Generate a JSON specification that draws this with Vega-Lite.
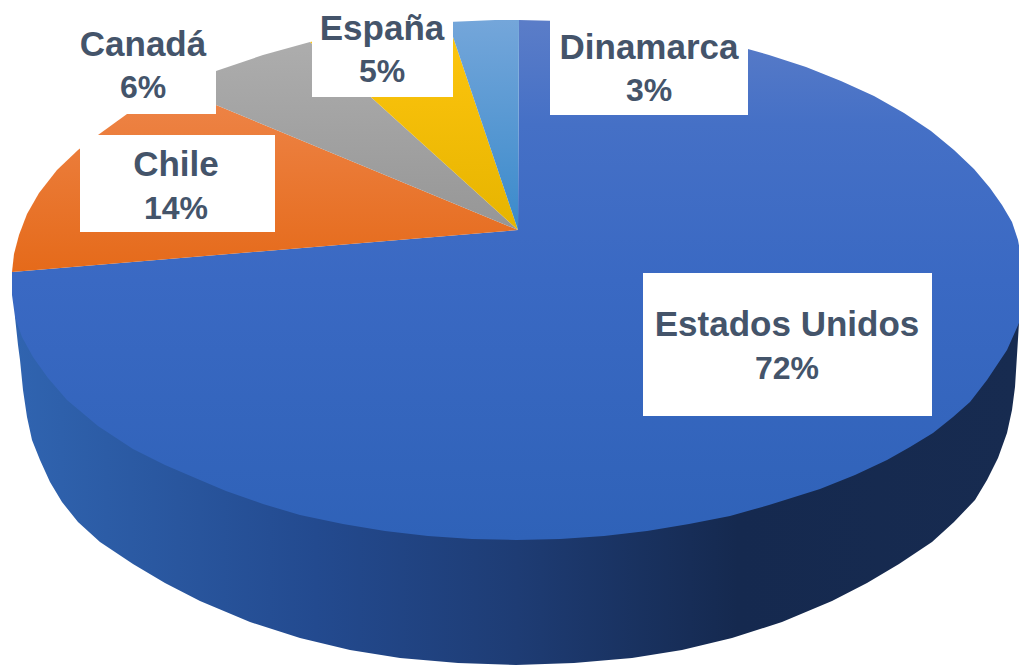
{"$schema":"https://vega.github.io/schema/vega-lite/v6.json","width":1019,"height":667,"padding":0,"autosize":{"type":"fit","contains":"padding"},"background":"white","view":{"stroke":null},
"datasets":{"outline":[
{"p":"Lado","i":0,"x":15,"y":317},{"p":"Lado","i":1,"x":18,"y":345},{"p":"Lado","i":2,"x":20,"y":360},{"p":"Lado","i":3,"x":23,"y":390},{"p":"Lado","i":4,"x":27,"y":417},{"p":"Lado","i":5,"x":32,"y":440},{"p":"Lado","i":6,"x":40,"y":460},{"p":"Lado","i":7,"x":50,"y":482},{"p":"Lado","i":8,"x":62,"y":502},{"p":"Lado","i":9,"x":78,"y":522},{"p":"Lado","i":10,"x":100,"y":542},{"p":"Lado","i":11,"x":133,"y":564},{"p":"Lado","i":12,"x":165,"y":583},{"p":"Lado","i":13,"x":200,"y":601},{"p":"Lado","i":14,"x":250,"y":622},{"p":"Lado","i":15,"x":300,"y":638},{"p":"Lado","i":16,"x":350,"y":650},{"p":"Lado","i":17,"x":400,"y":658},{"p":"Lado","i":18,"x":458,"y":663},{"p":"Lado","i":19,"x":516,"y":665},{"p":"Lado","i":20,"x":574,"y":663},{"p":"Lado","i":21,"x":632,"y":658},{"p":"Lado","i":22,"x":682,"y":650},{"p":"Lado","i":23,"x":732,"y":638},{"p":"Lado","i":24,"x":782,"y":622},{"p":"Lado","i":25,"x":832,"y":601},{"p":"Lado","i":26,"x":867,"y":583},{"p":"Lado","i":27,"x":899,"y":564},{"p":"Lado","i":28,"x":932,"y":542},{"p":"Lado","i":29,"x":954,"y":522},{"p":"Lado","i":30,"x":975,"y":500},{"p":"Lado","i":31,"x":987,"y":480},{"p":"Lado","i":32,"x":998,"y":458},{"p":"Lado","i":33,"x":1007,"y":433},{"p":"Lado","i":34,"x":1012,"y":410},{"p":"Lado","i":35,"x":1015,"y":387},{"p":"Lado","i":36,"x":1017,"y":355},{"p":"Lado","i":37,"x":1019,"y":323},{"p":"Lado","i":38,"x":516,"y":300},
{"p":"Estados Unidos","i":0,"x":518,"y":230},{"p":"Estados Unidos","i":1,"x":519,"y":20},{"p":"Estados Unidos","i":2,"x":560,"y":21},{"p":"Estados Unidos","i":3,"x":604,"y":24},{"p":"Estados Unidos","i":4,"x":647,"y":29},{"p":"Estados Unidos","i":5,"x":689,"y":36},{"p":"Estados Unidos","i":6,"x":730,"y":44},{"p":"Estados Unidos","i":7,"x":769,"y":55},{"p":"Estados Unidos","i":8,"x":806,"y":67},{"p":"Estados Unidos","i":9,"x":841,"y":81},{"p":"Estados Unidos","i":10,"x":874,"y":96},{"p":"Estados Unidos","i":11,"x":904,"y":113},{"p":"Estados Unidos","i":12,"x":931,"y":131},{"p":"Estados Unidos","i":13,"x":954,"y":150},{"p":"Estados Unidos","i":14,"x":974,"y":169},{"p":"Estados Unidos","i":15,"x":990,"y":188},{"p":"Estados Unidos","i":16,"x":1002,"y":205},{"p":"Estados Unidos","i":17,"x":1012,"y":222},{"p":"Estados Unidos","i":18,"x":1018,"y":240},{"p":"Estados Unidos","i":19,"x":1022,"y":262},{"p":"Estados Unidos","i":20,"x":1024,"y":295},{"p":"Estados Unidos","i":21,"x":1019,"y":323},{"p":"Estados Unidos","i":22,"x":1007,"y":350},{"p":"Estados Unidos","i":23,"x":987,"y":380},{"p":"Estados Unidos","i":24,"x":970,"y":402},{"p":"Estados Unidos","i":25,"x":953,"y":417},{"p":"Estados Unidos","i":26,"x":933,"y":433},{"p":"Estados Unidos","i":27,"x":910,"y":447},{"p":"Estados Unidos","i":28,"x":887,"y":460},{"p":"Estados Unidos","i":29,"x":855,"y":475},{"p":"Estados Unidos","i":30,"x":820,"y":489},{"p":"Estados Unidos","i":31,"x":769,"y":505},{"p":"Estados Unidos","i":32,"x":730,"y":516},{"p":"Estados Unidos","i":33,"x":689,"y":524},{"p":"Estados Unidos","i":34,"x":647,"y":531},{"p":"Estados Unidos","i":35,"x":604,"y":536},{"p":"Estados Unidos","i":36,"x":560,"y":539},{"p":"Estados Unidos","i":37,"x":516,"y":540},{"p":"Estados Unidos","i":38,"x":472,"y":539},{"p":"Estados Unidos","i":39,"x":428,"y":536},{"p":"Estados Unidos","i":40,"x":385,"y":531},{"p":"Estados Unidos","i":41,"x":343,"y":524},{"p":"Estados Unidos","i":42,"x":300,"y":515},{"p":"Estados Unidos","i":43,"x":263,"y":504},{"p":"Estados Unidos","i":44,"x":226,"y":491},{"p":"Estados Unidos","i":45,"x":200,"y":480},{"p":"Estados Unidos","i":46,"x":165,"y":465},{"p":"Estados Unidos","i":47,"x":133,"y":449},{"p":"Estados Unidos","i":48,"x":98,"y":426},{"p":"Estados Unidos","i":49,"x":67,"y":400},{"p":"Estados Unidos","i":50,"x":48,"y":378},{"p":"Estados Unidos","i":51,"x":33,"y":357},{"p":"Estados Unidos","i":52,"x":22,"y":337},{"p":"Estados Unidos","i":53,"x":15,"y":317},{"p":"Estados Unidos","i":54,"x":12,"y":295},{"p":"Estados Unidos","i":55,"x":12,"y":272},
{"p":"Chile","i":0,"x":518,"y":230},{"p":"Chile","i":1,"x":12,"y":272},{"p":"Chile","i":2,"x":14,"y":254},{"p":"Chile","i":3,"x":19,"y":235},{"p":"Chile","i":4,"x":27,"y":214},{"p":"Chile","i":5,"x":39,"y":193},{"p":"Chile","i":6,"x":57,"y":170},{"p":"Chile","i":7,"x":78,"y":150},{"p":"Chile","i":8,"x":98,"y":135},{"p":"Chile","i":9,"x":127,"y":114},{"p":"Chile","i":10,"x":158,"y":96},{"p":"Chile","i":11,"x":175,"y":88},
{"p":"Canadá","i":0,"x":518,"y":230},{"p":"Canadá","i":1,"x":175,"y":88},{"p":"Canadá","i":2,"x":191,"y":81},{"p":"Canadá","i":3,"x":216,"y":71},{"p":"Canadá","i":4,"x":263,"y":55},{"p":"Canadá","i":5,"x":310,"y":42},
{"p":"España","i":0,"x":518,"y":230},{"p":"España","i":1,"x":310,"y":42},{"p":"España","i":2,"x":343,"y":36},{"p":"España","i":3,"x":385,"y":29},{"p":"España","i":4,"x":428,"y":24},{"p":"España","i":5,"x":448,"y":22},
{"p":"Dinamarca","i":0,"x":518,"y":230},{"p":"Dinamarca","i":1,"x":448,"y":22},{"p":"Dinamarca","i":2,"x":472,"y":21},{"p":"Dinamarca","i":3,"x":495,"y":20},{"p":"Dinamarca","i":4,"x":519,"y":20}
],
"labels":[
{"pais":"Dinamarca","pct":"3%","x0":550,"x1":748,"y0":20,"y1":115,"tx":649,"ty1":48,"ty2":91},
{"pais":"España","pct":"5%","x0":312,"x1":453,"y0":0,"y1":97,"tx":382,"ty1":29,"ty2":72},
{"pais":"Canadá","pct":"6%","x0":60,"x1":216,"y0":20,"y1":114,"tx":143,"ty1":45,"ty2":88},
{"pais":"Chile","pct":"14%","x0":80,"x1":275,"y0":135,"y1":232,"tx":176,"ty1":165,"ty2":209},
{"pais":"Estados Unidos","pct":"72%","x0":643,"x1":932,"y0":273,"y1":416,"tx":787,"ty1":325,"ty2":369}
]},
"encoding":{"x":{"type":"quantitative","scale":{"domain":[0,1019],"nice":false,"zero":false},"axis":null},"y":{"type":"quantitative","scale":{"domain":[0,667],"reverse":true,"nice":false,"zero":false},"axis":null}},
"layer":[
{"data":{"name":"outline"},"transform":[{"filter":"datum.p==='Lado'"}],"mark":{"type":"line","clip":true,"strokeWidth":0,"fill":{"gradient":"linear","x1":0,"y1":0,"x2":1,"y2":0,"stops":[{"offset":0,"color":"#3064b0"},{"offset":0.3,"color":"#234a8f"},{"offset":0.5,"color":"#1e3c74"},{"offset":0.72,"color":"#15294f"},{"offset":1,"color":"#172b50"}]}},"encoding":{"x":{"field":"x"},"y":{"field":"y"},"order":{"field":"i","type":"quantitative"}}},
{"data":{"name":"outline"},"transform":[{"filter":"datum.p==='Estados Unidos'"}],"mark":{"type":"line","clip":true,"strokeWidth":0,"fill":{"gradient":"linear","x1":0,"y1":0,"x2":0,"y2":1,"stops":[{"offset":0,"color":"#5b7dc8"},{"offset":0.2,"color":"#4570c6"},{"offset":0.5,"color":"#3a69c3"},{"offset":1,"color":"#2f62b8"}]}},"encoding":{"x":{"field":"x"},"y":{"field":"y"},"order":{"field":"i","type":"quantitative"}}},
{"data":{"name":"outline"},"transform":[{"filter":"datum.p==='Chile'"}],"mark":{"type":"line","clip":true,"strokeWidth":0,"fill":{"gradient":"linear","x1":0,"y1":0,"x2":0,"y2":1,"stops":[{"offset":0,"color":"#ee8549"},{"offset":1,"color":"#e56a1a"}]}},"encoding":{"x":{"field":"x"},"y":{"field":"y"},"order":{"field":"i","type":"quantitative"}}},
{"data":{"name":"outline"},"transform":[{"filter":"datum.p==='Canadá'"}],"mark":{"type":"line","clip":true,"strokeWidth":0,"fill":{"gradient":"linear","x1":0,"y1":0,"x2":0,"y2":1,"stops":[{"offset":0,"color":"#adadad"},{"offset":1,"color":"#969696"}]}},"encoding":{"x":{"field":"x"},"y":{"field":"y"},"order":{"field":"i","type":"quantitative"}}},
{"data":{"name":"outline"},"transform":[{"filter":"datum.p==='España'"}],"mark":{"type":"line","clip":true,"strokeWidth":0,"fill":{"gradient":"linear","x1":0,"y1":0,"x2":0,"y2":1,"stops":[{"offset":0,"color":"#ffc60f"},{"offset":1,"color":"#e6b400"}]}},"encoding":{"x":{"field":"x"},"y":{"field":"y"},"order":{"field":"i","type":"quantitative"}}},
{"data":{"name":"outline"},"transform":[{"filter":"datum.p==='Dinamarca'"}],"mark":{"type":"line","clip":true,"strokeWidth":0,"fill":{"gradient":"linear","x1":0,"y1":0,"x2":0,"y2":1,"stops":[{"offset":0,"color":"#74a6da"},{"offset":1,"color":"#3a8acb"}]}},"encoding":{"x":{"field":"x"},"y":{"field":"y"},"order":{"field":"i","type":"quantitative"}}},
{"data":{"name":"labels"},"mark":{"type":"rect","fill":"white"},"encoding":{"x":{"field":"x0"},"x2":{"field":"x1"},"y":{"field":"y0"},"y2":{"field":"y1"}}},
{"data":{"name":"labels"},"mark":{"type":"text","font":"Liberation Sans","fontWeight":"bold","fontSize":35,"fill":"#44546a","align":"center","baseline":"middle"},"encoding":{"x":{"field":"tx"},"y":{"field":"ty1"},"text":{"field":"pais"}}},
{"data":{"name":"labels"},"mark":{"type":"text","font":"Liberation Sans","fontWeight":"bold","fontSize":32,"fill":"#44546a","align":"center","baseline":"middle"},"encoding":{"x":{"field":"tx"},"y":{"field":"ty2"},"text":{"field":"pct"}}}
]}
